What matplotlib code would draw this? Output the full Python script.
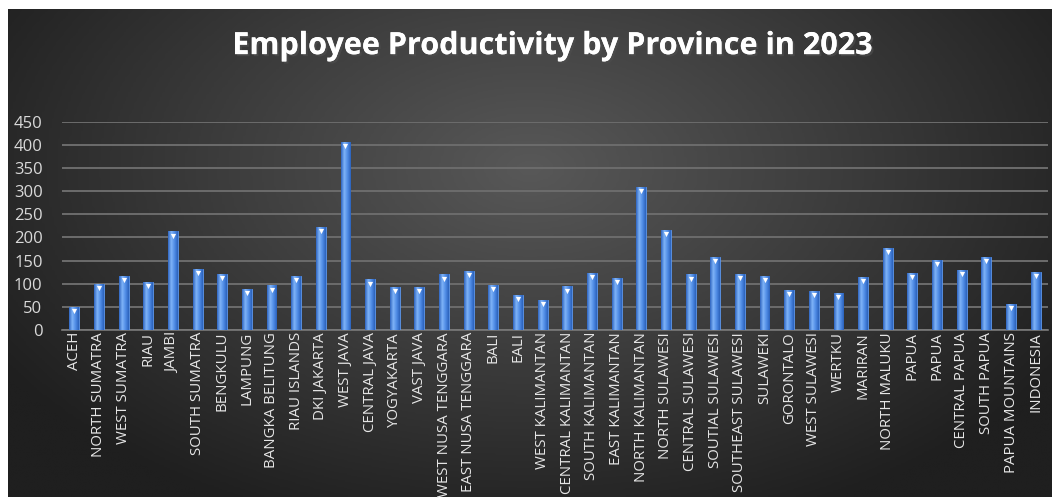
import numpy as np
import matplotlib
matplotlib.use("Agg")
import matplotlib.pyplot as plt
import matplotlib.patheffects as pe
from matplotlib.colors import LinearSegmentedColormap
from matplotlib.transforms import offset_copy

provinces = [
    "ACEH", "NORTH SUMATRA", "WEST SUMATRA", "RIAU", "JAMBI", "SOUTH SUMATRA",
    "BENGKULU", "LAMPUNG", "BANGKA BELITUNG", "RIAU ISLANDS", "DKI JAKARTA",
    "WEST JAVA", "CENTRAL JAVA", "YOGYAKARTA", "VAST JAVA", "WEST NUSA TENGGARA",
    "EAST NUSA TENGGARA", "BALI", "EALI", "WEST KALIMANTAN", "CENTRAL KALIMANTAN",
    "SOUTH KALIMANTAN", "EAST KALIMANTAN", "NORTH KALIMANTAN", "NORTH SULAWESI",
    "CENTRAL SULAWESI", "SOUTIAL SULAWESI", "SOUTHEAST SULAWESI", "SULAWEKI",
    "GORONTALO", "WEST SULAWESI", "WERTKU", "MARIRAN", "NORTH MALUKU", "PAPUA",
    "PAPUA", "CENTRAL PAPUA", "SOUTH PAPUA", "PAPUA MOUNTAINS", "INDONESIA",
]
productivity = [
    50, 99, 117, 104, 213, 132, 121, 88, 96, 117, 223, 407, 109, 93, 93, 120,
    128, 98, 76, 64, 94, 124, 112, 310, 216, 120, 158, 121, 117, 87, 85, 79,
    115, 178, 123, 152, 129, 158, 56, 126,
]
y_ticks = [0, 50, 100, 150, 200, 250, 300, 350, 400, 450]

W, H = 1059, 501
fig = plt.figure(figsize=(W / 100, H / 100), dpi=100)
fig.patch.set_facecolor("white")

# dark radial background panel
bg = fig.add_axes([8 / W, 4 / H, 1044 / W, 488 / H], zorder=-5)
gx, gy = np.meshgrid(np.linspace(-1, 1, 400), np.linspace(-1, 1, 200))
r = np.sqrt((gx / 1.0) ** 2 + ((gy + 0.35) / 1.3) ** 2)
bg_cmap = LinearSegmentedColormap.from_list("bg", ["#585858", "#3c3c3c", "#1f1f1f"])
bg.imshow(np.clip(r, 0, 1.2), cmap=bg_cmap, aspect="auto", origin="upper",
          vmin=0, vmax=1.2)
bg.axis("off")

ax = fig.add_axes([62 / W, 1 - 329.8 / H, 986 / W, 207.8 / H])
ax.set_facecolor("none")

x = np.arange(len(provinces))
bars = ax.bar(x, productivity, width=0.4, color="#3d7ad8", edgecolor="#5d96ea",
              linewidth=0.6, zorder=3)

# horizontal shading inside each bar
bar_cmap = LinearSegmentedColormap.from_list("bar", ["#2f66c0", "#7fb3f7", "#4f8ce6", "#2b62bb"])
shade = np.tile(np.linspace(0, 1, 50), (2, 1))
for b in bars:
    x0, y0 = b.get_x(), b.get_y()
    im = ax.imshow(shade, cmap=bar_cmap, aspect="auto", zorder=3.5,
                   extent=(x0, x0 + b.get_width(), y0, y0 + b.get_height()))
    im.set_clip_path(b)

# small highlight cap at bar tops
cap = offset_copy(ax.transData, fig=fig, y=-3, units="points")
ax.scatter(x, productivity, marker="v", s=14, color="white", zorder=4,
           transform=cap, linewidths=0)

ax.set_xlim(-0.5, len(provinces) - 0.5)
ax.set_ylim(0, 450)
ax.set_yticks(y_ticks)
ax.yaxis.grid(True, color="#6c6c6c", linewidth=1.4)
ax.set_axisbelow(True)
for s in ["top", "right", "left"]:
    ax.spines[s].set_visible(False)
ax.spines["bottom"].set_color("#7a7a7a")
ax.spines["bottom"].set_linewidth(1.2)

ax.set_xticks(x)
ax.set_xticklabels(provinces, rotation=90, fontsize=10.8, color="#e6e6e6",
                   family=["Open Sans", "DejaVu Sans"])
ax.tick_params(axis="x", length=0, pad=1.5)
ax.tick_params(axis="y", length=0, pad=14, labelsize=12, labelcolor="#d9d9d9")
for t in ax.get_yticklabels():
    t.set_family(["Open Sans", "DejaVu Sans"])

fig.text(0.521, 0.908, "Employee Productivity by Province in 2023",
         ha="center", va="center", fontsize=22, fontweight="bold", color="white",
         family=["Open Sans", "DejaVu Sans"],
         path_effects=[pe.withSimplePatchShadow(offset=(1.5, -1.5), alpha=0.7), pe.Normal()])

fig.savefig("out.png", dpi=100, facecolor=fig.get_facecolor())
